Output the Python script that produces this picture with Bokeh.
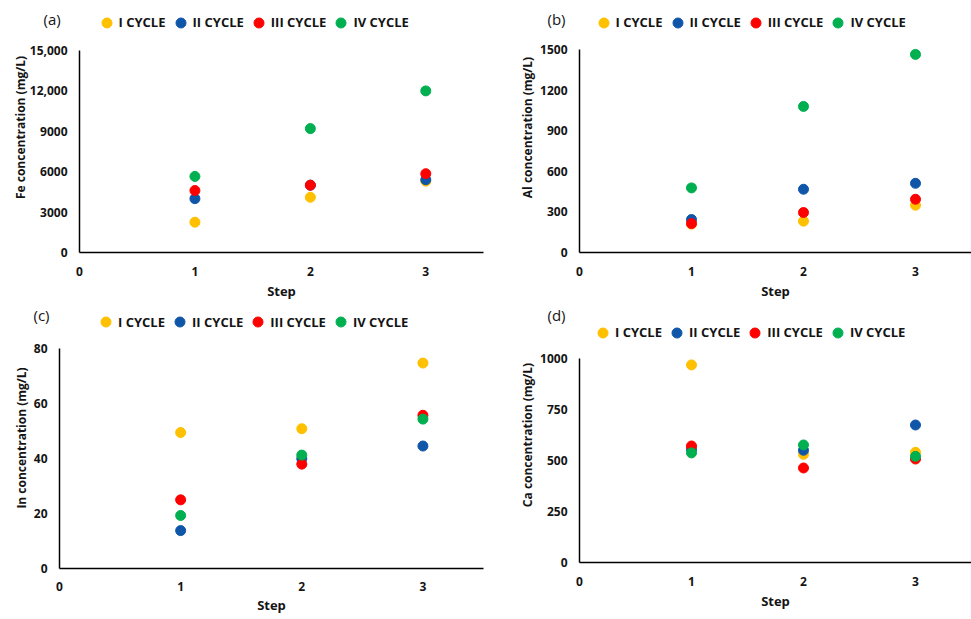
from bokeh.plotting import figure
from bokeh.models import Range1d, Legend, LegendItem, FixedTicker
from bokeh.layouts import column, row
from bokeh.embed import file_html
from bokeh.resources import INLINE

# ---------------- data ----------------
steps = [1, 2, 3]
series_names = ["I CYCLE", "II CYCLE", "III CYCLE", "IV CYCLE"]
series_colors = ["#FFC000", "#0F56A8", "#FF0000", "#00B050"]

fe_I = [2250, 4100, 5300]
fe_II = [4000, 5000, 5400]
fe_III = [4600, 5000, 5850]
fe_IV = [5650, 9200, 12000]

al_I = [210, 232, 350]
al_II = [244, 468, 512]
al_III = [214, 296, 394]
al_IV = [478, 1081, 1466]

in_I = [49.5, 50.9, 74.8]
in_II = [13.8, 40.0, 44.6]
in_III = [25.0, 38.0, 55.8]
in_IV = [19.3, 41.3, 54.4]

ca_I = [970, 531, 541]
ca_II = [555, 551, 675]
ca_III = [572, 464, 508]
ca_IV = [538, 577, 521]

x_ticks = [0, 1, 2, 3]
fe_ticks = [0, 3000, 6000, 9000, 12000, 15000]
fe_tick_labels = ["0", "3000", "6000", "9000", "12,000", "15,000"]
al_ticks = [0, 300, 600, 900, 1200, 1500]
in_ticks = [0, 20, 40, 60, 80]
ca_ticks = [0, 250, 500, 750, 1000]

FONT = "Open Sans"
TXT = "#141414"


def make_panel(tag, ylabel, series, yticks, ylabels, ymax, width, height,
               left, right, top, bottom, data_px, ylab_standoff,
               tag_offset, tag_standoff, legend_pos, xlab_standoffs=(14, 3)):
    frame_h = height - top - bottom
    # the frame is taller than the data area, so the legend fits inside it
    y_end = ymax * frame_h / data_px
    p = figure(width=width, height=height, output_backend="svg", toolbar_location=None,
               x_range=Range1d(0, 3.5), y_range=Range1d(0, y_end),
               min_border_left=left, min_border_right=right,
               min_border_top=top, min_border_bottom=bottom)
    p.outline_line_color = None
    p.grid.visible = False
    p.background_fill_color = "white"
    p.border_fill_color = "white"

    p.title.text = tag
    p.title.text_font = FONT
    p.title.text_font_style = "normal"
    p.title.text_font_size = "15px"
    p.title.text_color = TXT
    p.title.align = "left"
    p.title.offset = tag_offset
    p.title.standoff = tag_standoff

    for ax in (p.xaxis[0], p.yaxis[0]):
        ax.axis_line_color = "#000000"
        ax.axis_line_width = 1.5
        ax.major_tick_in = 0
        ax.major_tick_out = 0
        ax.minor_tick_in = 0
        ax.minor_tick_out = 0
        ax.major_label_text_font = FONT
        ax.major_label_text_font_style = "bold"
        ax.major_label_text_font_size = "12px"
        ax.major_label_text_color = TXT
        ax.axis_label_text_font = FONT
        ax.axis_label_text_font_style = "bold"
        ax.axis_label_text_color = TXT

    p.xaxis.ticker = FixedTicker(ticks=x_ticks)
    p.xaxis.axis_label = "Step"
    p.xaxis.axis_label_text_font_size = "13px"
    p.xaxis.major_label_standoff = xlab_standoffs[0]
    p.xaxis.axis_label_standoff = xlab_standoffs[1]

    p.yaxis.ticker = FixedTicker(ticks=yticks)
    p.yaxis.bounds = (0, ymax)
    p.yaxis.major_label_overrides = {t: l for t, l in zip(yticks, ylabels)}
    p.yaxis.axis_label = ylabel
    p.yaxis.axis_label_text_font_size = "12px"
    p.yaxis.major_label_standoff = 12
    p.yaxis.axis_label_standoff = ylab_standoff

    items = []
    for name, col, vals in zip(series_names, series_colors, series):
        r = p.scatter(steps, vals, size=10, fill_color=col, line_color=col)
        items.append(LegendItem(label=name, renderers=[r]))

    leg = Legend(items=items, orientation="horizontal", location=legend_pos,
                 glyph_width=25, glyph_height=25, label_height=25,
                 label_standoff=0, spacing=2, padding=0, margin=0,
                 border_line_color=None, background_fill_alpha=0,
                 label_text_font=FONT, label_text_font_style="bold",
                 label_text_font_size="13px", label_text_color=TXT)
    p.add_layout(leg)
    return p


# top row: y 0..305; bottom row: y 305..619
pa = make_panel("(a)", "Fe concentration (mg/L)", [fe_I, fe_II, fe_III, fe_IV],
                fe_ticks, fe_tick_labels, 15000, 485, 305,
                79, 2, 2, 53, 202, -2, -36, -52, (14.5, 217.5))
pb = make_panel("(b)", "Al concentration (mg/L)", [al_I, al_II, al_III, al_IV],
                al_ticks, [str(t) for t in al_ticks], 1500, 486, 305,
                94, 0, 2, 53, 202.7, 1, -32, -52, (11.5, 217.5))
pc = make_panel("(c)", "In concentration (mg/L)", [in_I, in_II, in_III, in_IV],
                in_ticks, [str(t) for t in in_ticks], 80, 485, 314,
                59, 2, 2, 51, 219.7, 1, -26, -35, (34, 233.8), (13, 2))
pd = make_panel("(d)", "Ca concentration (mg/L)", [ca_I, ca_II, ca_III, ca_IV],
                ca_ticks, [str(t) for t in ca_ticks], 1000, 486, 314,
                94, 0, 2, 57, 203.7, 1, -32, -35, (11, 217.5))

# (d) sits in its own column so that its frame is not aligned with (c)'s
layout = column(row(pa, pb), row(column(pc), column(pd)))

with open("out.html", "w") as f:
    f.write(file_html(layout, INLINE))
